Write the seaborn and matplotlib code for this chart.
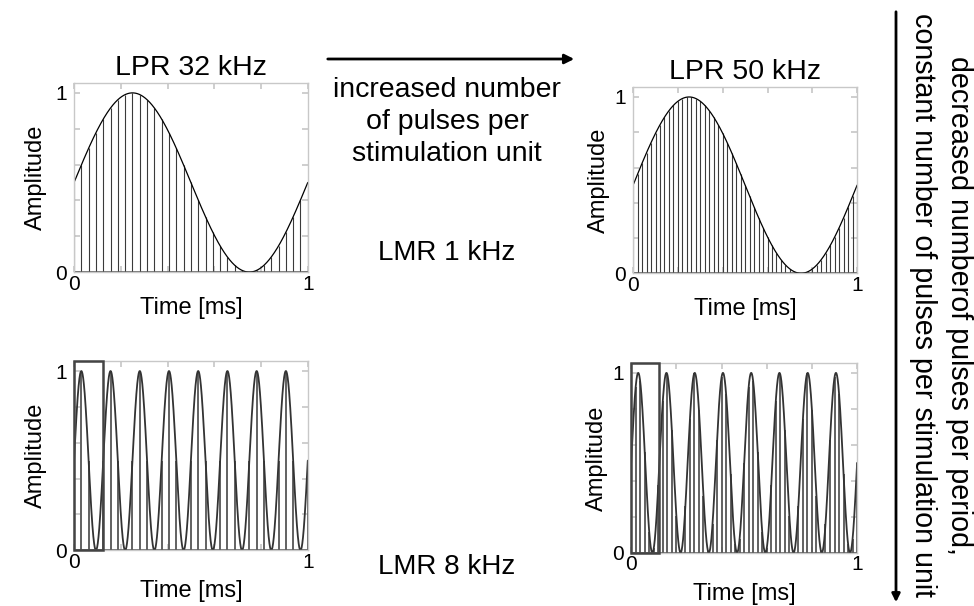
import matplotlib
matplotlib.use("Agg")
import matplotlib.pyplot as plt
import matplotlib.ticker as ticker
from matplotlib.patches import Rectangle, FancyArrowPatch
import numpy as np
import pandas as pd
import seaborn as sns

# pulse rates (LPR) per column and modulation rates (LMR) per row, in kHz
lpr_khz = [32, 50]
lmr_khz = [1, 8]
col_titles = ['LPR 32 kHz', 'LPR 50 kHz']
row_labels = ['LMR 1 kHz', 'LMR 8 kHz']
tick_vals = [0, 0.2, 0.4, 0.6, 0.8, 1.0]
tick_text = ['0', '', '', '', '', '1']

sns.set_theme(style='white')
plt.rcParams['font.family'] = ['Liberation Sans', 'DejaVu Sans']
plt.rcParams['text.color'] = 'black'
plt.rcParams['axes.labelcolor'] = 'black'
plt.rcParams['xtick.labelcolor'] = 'black'
plt.rcParams['ytick.labelcolor'] = 'black'

fig = plt.figure(figsize=(9.74, 6.06), dpi=100)

# axes rectangles in figure fractions: [row][col]
rects = [[[0.076, 0.551, 0.240, 0.312], [0.650, 0.549, 0.230, 0.307]],
         [[0.076, 0.092, 0.240, 0.312], [0.648, 0.088, 0.232, 0.313]]]

for r, lmr in enumerate(lmr_khz):
    for c, lpr in enumerate(lpr_khz):
        ax = fig.add_axes(rects[r][c])
        t = np.linspace(0, 1, 2000)
        df = pd.DataFrame({'t': t, 'amp': 0.5 + 0.5 * np.sin(2 * np.pi * lmr * t)})
        ts = np.arange(lpr + 1) / lpr
        amp_s = 0.5 + 0.5 * np.sin(2 * np.pi * lmr * ts)

        stem_col = '#3a3a3a' if r == 0 else '#555555'
        stem_lw = 0.8 if r == 0 else 1.3
        ax.vlines(ts, 0, amp_s, color=stem_col, lw=stem_lw)
        ax.axhline(0, color='#444444', lw=1.8)
        sns.lineplot(data=df, x='t', y='amp', ax=ax, color='black' if r == 0 else '#333333',
                     lw=0.9 if r == 0 else 1.3)

        if r == 1:
            ax.add_patch(Rectangle((0, 0), 1 / lmr, 1.055, fill=False,
                                   edgecolor='#444444', lw=1.8, zorder=5, clip_on=False))

        ax.set_xlim(0, 1)
        ax.set_ylim(0, 1.055)
        ax.xaxis.set_major_locator(ticker.FixedLocator(tick_vals))
        ax.yaxis.set_major_locator(ticker.FixedLocator(tick_vals))
        ax.xaxis.set_major_formatter(ticker.FixedFormatter(tick_text))
        ax.yaxis.set_major_formatter(ticker.FixedFormatter(tick_text))
        ax.tick_params(direction='in', length=4, color='#c8c8c8', labelsize=15,
                       top=True, right=True, bottom=True, left=True)
        ax.tick_params(axis='x', pad=2)
        ax.tick_params(axis='y', pad=5)
        for sp in ax.spines.values():
            sp.set_color('#c8c8c8')
            sp.set_linewidth(1.0)
        ax.set_xlabel('Time [ms]', fontsize=17, labelpad=2 if r == 0 else 6)
        ax.set_ylabel('Amplitude', fontsize=17, labelpad=6 if c == 0 else 3)
        if r == 0:
            ax.set_title(col_titles[c], fontsize=20.5, pad=6)

# row labels in the middle column
fig.text(447 / 974, 1 - 253 / 606, row_labels[0], fontsize=20, ha='center', va='center')
fig.text(447 / 974, 1 - 567 / 606, row_labels[1], fontsize=20, ha='center', va='center')

# horizontal arrow and text
fig.add_artist(FancyArrowPatch(
    (325 / 974, 1 - 59 / 606), (577 / 974, 1 - 59 / 606), transform=fig.transFigure,
    arrowstyle='-|>', mutation_scale=14, color='black', lw=2))
fig.text(447 / 974, 1 - 122 / 606, 'increased number\nof pulses per\nstimulation unit',
         fontsize=20.5, ha='center', va='center', linespacing=1.32)

# vertical arrow and text
fig.add_artist(FancyArrowPatch(
    (896 / 974, 1 - 9 / 606), (896 / 974, 1 - 605 / 606), transform=fig.transFigure,
    arrowstyle='-|>', mutation_scale=12, color='black', lw=2))
fig.text(959 / 974, 1 - 305 / 606, 'decreased numberof pulses per period,',
         fontsize=20.6, rotation=270, ha='center', va='center')
fig.text(923 / 974, 1 - 305 / 606, 'constant number of pulses per stimulation unit',
         fontsize=20.6, rotation=270, ha='center', va='center')

fig.savefig('out.png', dpi=100)
